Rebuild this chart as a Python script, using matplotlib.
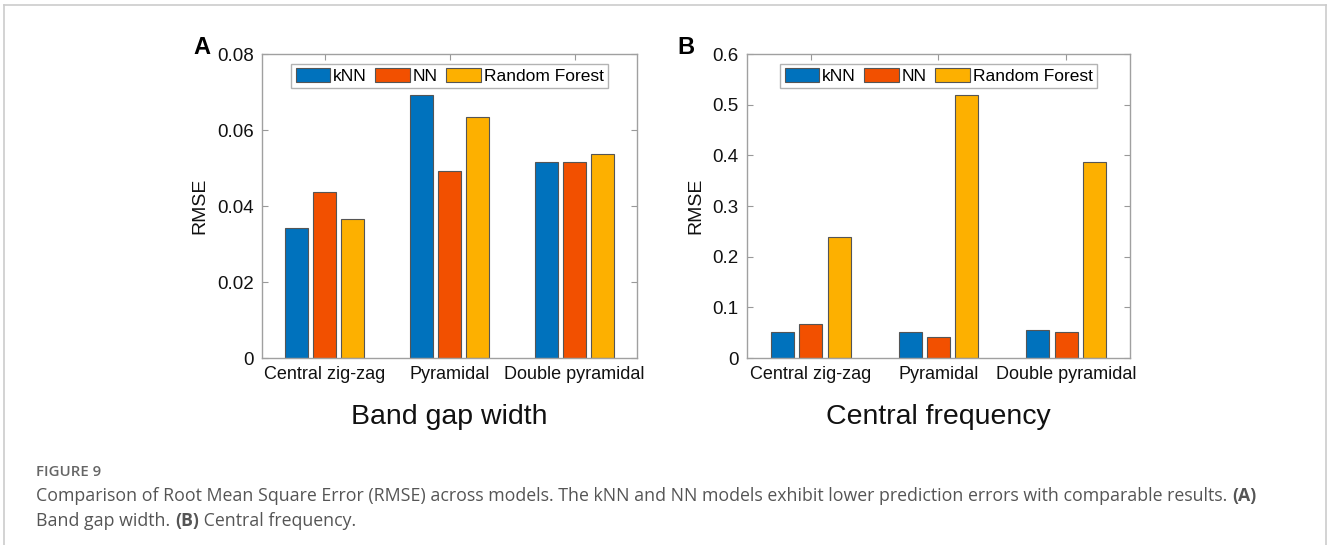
import numpy as np
import matplotlib.pyplot as plt

plt.rcParams['font.family'] = ['Liberation Sans', 'DejaVu Sans']

structures = ["Central zig-zag", "Pyramidal", "Double pyramidal"]
models = ["kNN", "NN", "Random Forest"]
colors = ["#0072BD", "#F25000", "#FDB000"]

# RMSE, band gap width
gap_knn = [0.0343, 0.0692, 0.0516]
gap_nn = [0.0436, 0.0492, 0.0516]
gap_rf = [0.0365, 0.0633, 0.0536]

# RMSE, central frequency
freq_knn = [0.052, 0.051, 0.056]
freq_nn = [0.0665, 0.0415, 0.051]
freq_rf = [0.238, 0.520, 0.387]

gap_ticks = [0, 0.02, 0.04, 0.06, 0.08]
freq_ticks = [0, 0.1, 0.2, 0.3, 0.4, 0.5, 0.6]

fig = plt.figure(figsize=(13.28, 5.45), dpi=100)

# thin grey frame around the figure, open at the bottom
frame_col = "#cccccc"
fig.add_artist(plt.Line2D([0.003, 0.003], [0, 0.991], color=frame_col, lw=1.2, transform=fig.transFigure))
fig.add_artist(plt.Line2D([0.9985, 0.9985], [0, 0.991], color=frame_col, lw=1.2, transform=fig.transFigure))
fig.add_artist(plt.Line2D([0.003, 0.9985], [0.991, 0.991], color=frame_col, lw=1.2, transform=fig.transFigure))


def panel(rect, series, ticks, ticklabels, xlabel, letter):
    ax = fig.add_axes(rect)
    x = np.arange(1, len(structures) + 1)
    w = 0.18
    step = 0.223
    for i, (vals, c, name) in enumerate(zip(series, colors, models)):
        ax.bar(x + (i - 1) * step, vals, w, color=c, edgecolor="#555555",
               linewidth=0.8, label=name, zorder=2)
    ax.set_xlim(0.5, 3.5)
    ax.set_ylim(ticks[0], ticks[-1])
    ax.set_xticks(x)
    ax.set_xticklabels(structures, fontsize=13, color="#111111")
    ax.set_yticks(ticks)
    ax.set_yticklabels(ticklabels, fontsize=13.5, color="#111111")
    ax.tick_params(direction="in", top=True, right=True, length=4,
                   color="#999999", pad=6)
    for s in ax.spines.values():
        s.set_color("#a0a0a0")
        s.set_linewidth(1.0)
    ax.set_ylabel("RMSE", fontsize=14, color="#111111", labelpad=6)
    ax.set_xlabel(xlabel, fontsize=20.5, color="#111111", labelpad=15)
    leg = ax.legend(loc="upper center", ncol=3, fontsize=12.5, frameon=True,
                    fancybox=False, handlelength=2.0, handleheight=0.9,
                    handletextpad=0.15, columnspacing=0.5, borderpad=0.25,
                    borderaxespad=0.55)
    leg.get_frame().set_edgecolor("#a0a0a0")
    leg.get_frame().set_linewidth(1.0)
    ax.text(-0.182, 1.02, letter, transform=ax.transAxes, fontsize=17,
            fontweight="bold", ha="left", va="center")
    return ax


panel([0.1973, 0.3431, 0.2824, 0.5578], [gap_knn, gap_nn, gap_rf],
      gap_ticks, ["0", "0.02", "0.04", "0.06", "0.08"], "Band gap width", "A")
panel([0.5625, 0.3431, 0.2884, 0.5578], [freq_knn, freq_nn, freq_rf],
      freq_ticks, ["0", "0.1", "0.2", "0.3", "0.4", "0.5", "0.6"],
      "Central frequency", "B")

# caption: plain and bold runs laid out one after another
cap_font = ["Open Sans", "DejaVu Sans"]
cap_col = "#555555"
cap_size = 12.75
renderer = fig.canvas.get_renderer()
W = fig.bbox.width


def caption_line(y, runs):
    xpos = 36
    for txt, weight in runs:
        t = fig.text(xpos / W, y, txt, fontsize=cap_size, color=cap_col,
                     family=cap_font, fontweight=weight, va="center")
        xpos = t.get_window_extent(renderer).x1


fig.text(36 / W, 1 - 472 / 545, "FIGURE 9", fontsize=10.8, color="#666666",
         family=cap_font, va="center", fontweight="semibold")
caption_line(1 - 496 / 545, [
    ("Comparison of Root Mean Square Error (RMSE) across models. The kNN and NN models "
     "exhibit lower prediction errors with comparable results. ", "normal"),
    ("(A)", "bold")])
caption_line(1 - 521 / 545, [
    ("Band gap width. ", "normal"), ("(B)", "bold"),
    (" Central frequency.", "normal")])

fig.savefig("out.png", dpi=100)
